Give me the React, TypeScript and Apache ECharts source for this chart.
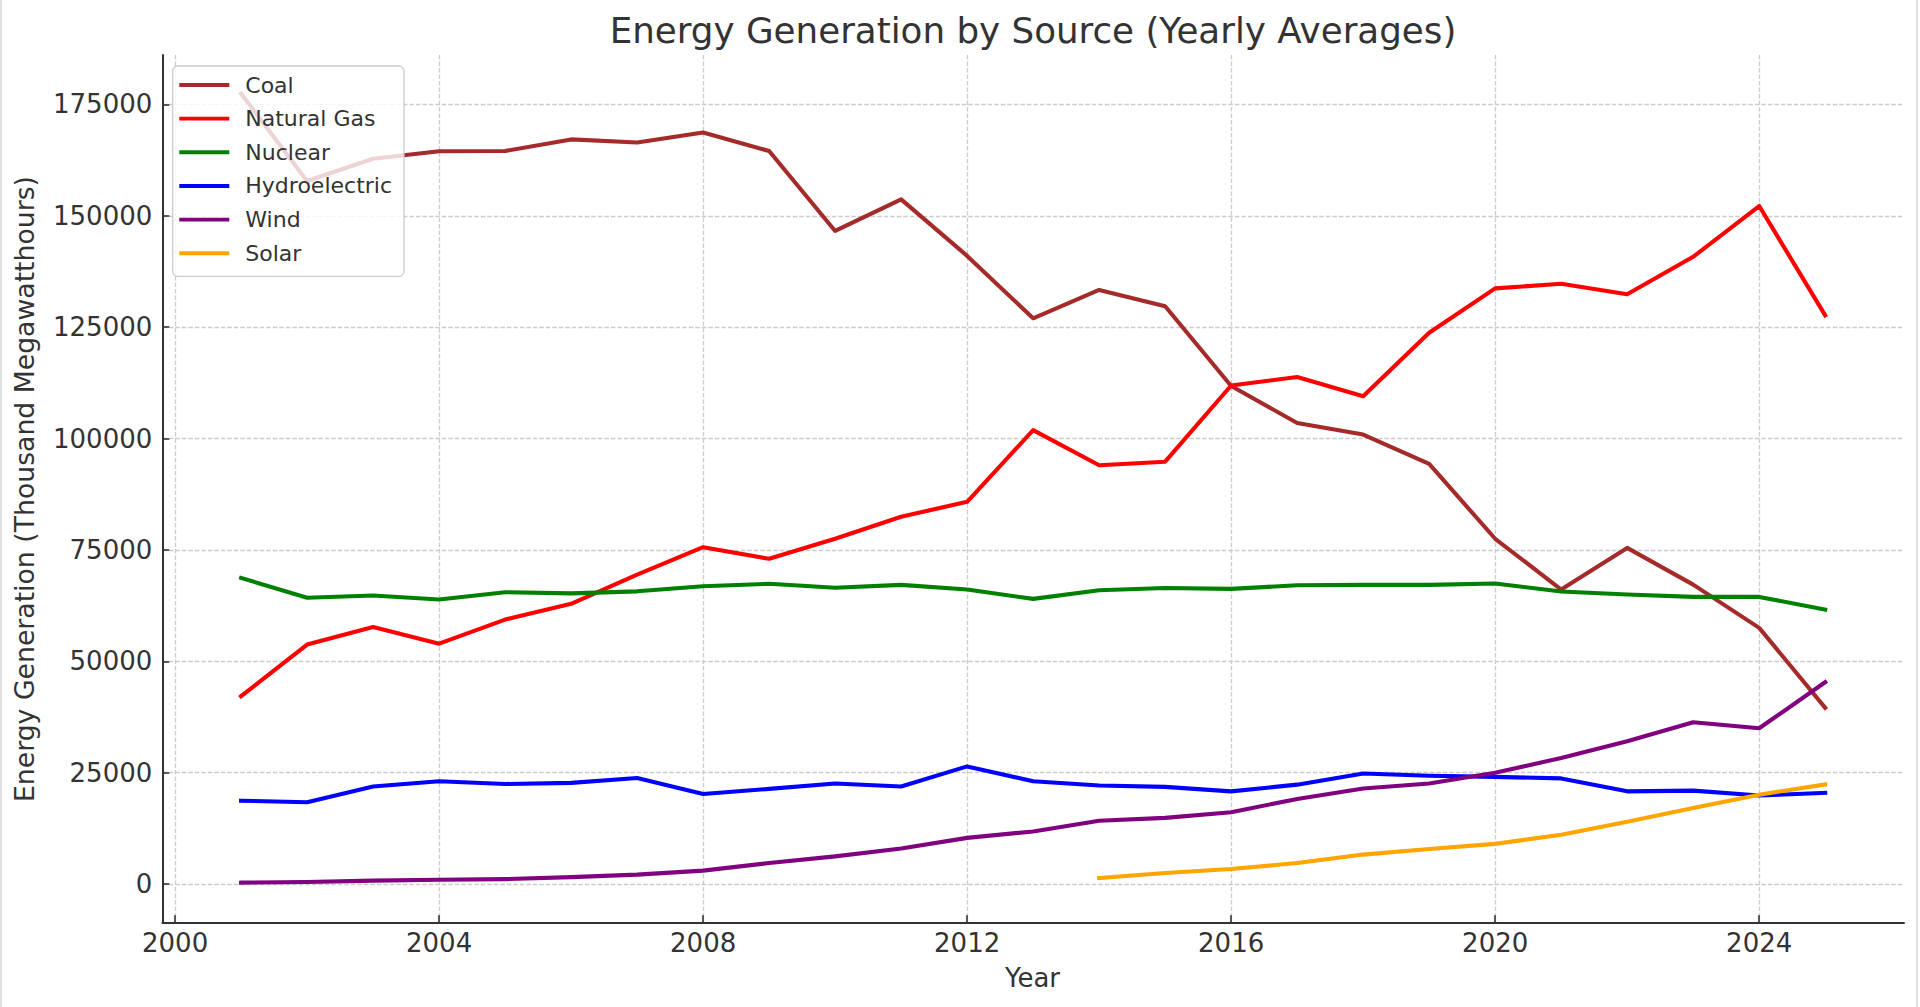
import React, { useEffect, useRef } from "react";
import * as echarts from "echarts";

const years = [2001, 2002, 2003, 2004, 2005, 2006, 2007, 2008, 2009, 2010, 2011, 2012, 2013, 2014, 2015, 2016, 2017, 2018, 2019, 2020, 2021, 2022, 2023, 2024, 2025];
const solarYears = [2014, 2015, 2016, 2017, 2018, 2019, 2020, 2021, 2022, 2023, 2024, 2025];

const coal = [177400, 157800, 162800, 164500, 164550, 167150, 166450, 168700, 164550, 146600, 153700, 141000, 127000, 133350, 129700, 111800, 103500, 100900, 94300, 77500, 66100, 75450, 67200, 57500, 39550];
const naturalGas = [42150, 53750, 57700, 53950, 59350, 62900, 69450, 75600, 73000, 77500, 82450, 85800, 101900, 94000, 94800, 111900, 113800, 109500, 123750, 133700, 134750, 132400, 140800, 152200, 127650];
const nuclear = [68700, 64250, 64750, 63850, 65500, 65250, 65700, 66850, 67400, 66500, 67150, 66100, 64000, 65950, 66450, 66250, 67050, 67150, 67150, 67450, 65650, 65000, 64450, 64450, 61600];
const hydroelectric = [18700, 18350, 21900, 23050, 22450, 22700, 23800, 20200, 21350, 22550, 21900, 26400, 23050, 22100, 21800, 20800, 22300, 24800, 24300, 24050, 23700, 20800, 20950, 19850, 20450];
const wind = [300, 450, 750, 950, 1100, 1550, 2100, 3000, 4700, 6200, 7950, 10350, 11800, 14200, 14850, 16100, 19100, 21450, 22550, 24950, 28300, 32050, 36300, 34950, 45300];
const solar = [1350, 2450, 3350, 4700, 6600, 7850, 9000, 11050, 13950, 17050, 20050, 22350];

const seriesNames = ["Coal", "Natural Gas", "Nuclear", "Hydroelectric", "Wind", "Solar"];
const seriesColors = ["#a52a2a", "#ff0000", "#008000", "#0000ff", "#800080", "#ffa500"];

const xTicks = [2000, 2004, 2008, 2012, 2016, 2020, 2024];
const yTicks = [0, 25000, 50000, 75000, 100000, 125000, 150000, 175000];

const FONT = "'DejaVu Sans', Verdana, sans-serif";
const TEXT = "#333333";

function pairs(xs: number[], ys: number[]) {
  return xs.map((x, i) => [x, ys[i]]);
}

export default function App() {
  const ref = useRef<HTMLDivElement>(null);

  useEffect(() => {
    if (!ref.current) return;
    const chart = echarts.init(ref.current, null, { renderer: "svg" });
    const values = [coal, naturalGas, nuclear, hydroelectric, wind, solar];
    const series = seriesNames.map((name, i) => ({
      name,
      type: "line",
      data: pairs(i === 5 ? solarYears : years, values[i]),
      symbol: "none",
      showSymbol: false,
      color: seriesColors[i],
      lineStyle: { color: seriesColors[i], width: 4.1, join: "round", cap: "square" },
      emphasis: { disabled: true },
      z: 3 + i,
    }));

    chart.setOption({
      animation: false,
      backgroundColor: "#ffffff",
      grid: {
        left: 162.3,
        right: 16,
        top: 55,
        bottom: 84.7,
        containLabel: false,
        outerBoundsMode: "none",
      },
      xAxis: {
        type: "value",
        min: 1999.806,
        max: 2026.194,
        axisLine: { show: true, onZero: false, lineStyle: { color: TEXT, width: 2 } },
        axisTick: { show: true, inside: true, length: 7, customValues: xTicks, lineStyle: { color: TEXT, width: 1.6 } },
        axisLabel: {
          customValues: xTicks,
          formatter: (v: number) => String(v),
          fontSize: 26,
          fontFamily: FONT,
          color: TEXT,
          margin: 8,
        },
        splitLine: { show: true, lineStyle: { color: "#cccccc", width: 1.3, type: [4.5, 2] } },
      },
      yAxis: {
        type: "value",
        min: -8600,
        max: 186100,
        axisLine: { show: true, onZero: false, lineStyle: { color: TEXT, width: 2 } },
        axisTick: { show: true, inside: true, length: 7, customValues: yTicks, lineStyle: { color: TEXT, width: 1.6 } },
        axisLabel: {
          customValues: yTicks,
          formatter: (v: number) => String(v),
          fontSize: 26,
          fontFamily: FONT,
          color: TEXT,
          margin: 10,
        },
        splitLine: { show: true, lineStyle: { color: "#cccccc", width: 1.3, type: [4.5, 2] } },
      },
      legend: {
        data: seriesNames,
        orient: "vertical",
        left: 172.7,
        top: 66,
        padding: [8, 12, 12, 6.6],
        itemWidth: 50,
        itemHeight: 3.9,
        itemGap: 11.66,
        icon: "rect",
        selectedMode: false,
        backgroundColor: "rgba(255,255,255,0.8)",
        borderColor: "#cccccc",
        borderWidth: 1.3,
        borderRadius: 5,
        textStyle: { fontSize: 22, fontFamily: FONT, color: TEXT, lineHeight: 22, padding: [0, 0, 0, 11] },
      },
      graphic: [
        {
          type: "text",
          x: 1033,
          y: 30,
          style: {
            text: "Energy Generation by Source (Yearly Averages)",
            fontSize: 35.7,
            fontFamily: FONT,
            fill: TEXT,
            textAlign: "center",
            textVerticalAlign: "middle",
          },
        },
        {
          type: "text",
          x: 1032.5,
          y: 977.7,
          style: {
            text: "Year",
            fontSize: 26,
            fontFamily: FONT,
            fill: TEXT,
            textAlign: "center",
            textVerticalAlign: "middle",
          },
        },
        {
          type: "text",
          x: 24.5,
          y: 489,
          rotation: Math.PI / 2,
          style: {
            text: "Energy Generation (Thousand Megawatthours)",
            fontSize: 26.7,
            fontFamily: FONT,
            fill: TEXT,
            textAlign: "center",
            textVerticalAlign: "middle",
          },
        },
        {
          type: "line",
          shape: { x1: 1, y1: 0, x2: 1, y2: 1007 },
          style: { stroke: "#d6d6d6", lineWidth: 1.5 },
          silent: true,
        },
        {
          type: "line",
          shape: { x1: 1917, y1: 0, x2: 1917, y2: 1007 },
          style: { stroke: "#d6d6d6", lineWidth: 1.5 },
          silent: true,
        },
      ],
      series,
    });

    return () => {
      chart.dispose();
    };
  }, []);

  return (
    <div
      ref={ref}
      style={{ position: "fixed", left: 0, top: 0, width: 1920, height: 1007, background: "#fff" }}
    />
  );
}
